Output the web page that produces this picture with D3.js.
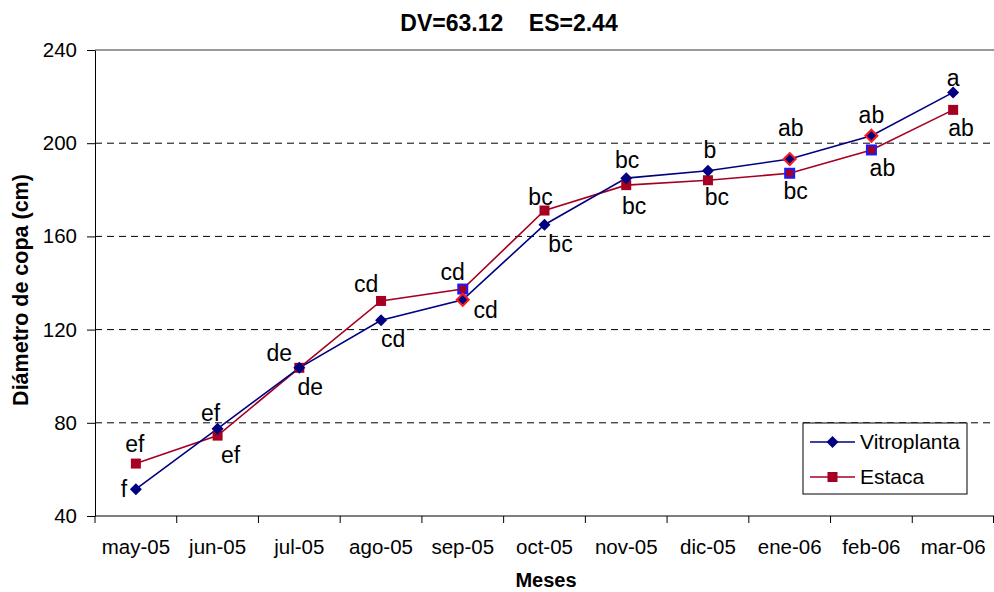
<!DOCTYPE html>
<html>
<head>
<meta charset="utf-8">
<script src="https://cdn.jsdelivr.net/npm/d3@7"></script>
<style>
  html, body { margin: 0; padding: 0; background: #fff; }
  svg { display: block; font-family: Arial, "Liberation Sans", sans-serif; }
</style>
</head>
<body>
<svg id="chart" width="994" height="592"></svg>
<script>
// Monthly crown diameter (cm) for two propagation methods
const months = ["may-05","jun-05","jul-05","ago-05","sep-05","oct-05","nov-05","dic-05","ene-06","feb-06","mar-06"];
const vitroplanta = [51.5, 77.5, 103.6, 124, 132.8, 165, 185, 188.2, 193.2, 203.2, 221.8];
const estaca      = [62.5, 74.5, 103.6, 132.3, 137.4, 171.1, 182, 184.1, 187.1, 197.1, 214.3];
const vitroLetters  = ["f","ef","de","cd","cd","bc","bc","b","ab","ab","a"];
const estacaLetters = ["ef","ef","de","cd","cd","bc","bc","bc","bc","ab","ab"];
const yTicks = [40, 80, 120, 160, 200, 240];

// Label offsets from each point (dx, dy to text centre)
const vitroLabelPos  = [[-12,0],[-7,-16],[-20,-15],[12,19],[23,10],[16,19],[1,-18],[2,-21],[1,-31],[0,-21],[0,-14]];
const estacaLabelPos = [[-1,-20],[13,19],[11,19],[-15,-17],[-10,-17],[-4,-14],[8,21],[9,17],[6,18],[11,18],[8,18]];
// Markers drawn with a contrasting outline (highlighted points)
const vitroHighlight  = [false,false,false,false,true,false,false,false,true,true,false];
const estacaHighlight = [false,false,false,false,true,false,false,false,true,true,false];

const navy = "#000080", crimson = "#A50021";
const svg = d3.select("#chart");
const m = { left: 95, right: 994, top: 50, bottom: 516 };

const x = d3.scaleBand().domain(months).range([m.left, m.right]).padding(0);
const y = d3.scaleLinear().domain([40, 240]).range([m.bottom, m.top]);
const cx = d => x(d) + x.bandwidth() / 2;

// Horizontal gridlines
svg.append("g").selectAll("line")
  .data(yTicks.filter(t => t > 40))
  .join("line")
  .attr("x1", m.left).attr("x2", m.right)
  .attr("y1", d => y(d)).attr("y2", d => y(d))
  .attr("stroke", d => d === 240 ? "#999" : "#000")
  .attr("stroke-width", d => d === 240 ? 2 : 1)
  .attr("stroke-dasharray", d => d === 240 ? null : "7,5");

// Y axis
const yAxis = svg.append("g")
  .attr("transform", `translate(${m.left},0)`)
  .call(d3.axisLeft(y).tickValues(yTicks).tickSize(8).tickSizeOuter(0).tickPadding(10));
yAxis.select(".domain").attr("stroke", "#000");
yAxis.selectAll(".tick line").attr("stroke", "#000");
yAxis.selectAll("text").attr("font-size", 20.5).attr("fill", "#000").attr("font-family", "Arial, 'Liberation Sans', sans-serif");

// X axis: ticks at category boundaries
const xg = svg.append("g").attr("transform", `translate(0,${m.bottom})`);
xg.append("line").attr("x1", m.left).attr("x2", m.right).attr("y1", 0).attr("y2", 0).attr("stroke", "#000");
xg.selectAll("line.tick")
  .data(months.map(d => x(d)).concat([m.right - 0.5]))
  .join("line").attr("class", "tick")
  .attr("x1", d => d).attr("x2", d => d)
  .attr("y1", 0).attr("y2", 7).attr("stroke", "#000");
xg.selectAll("text")
  .data(months)
  .join("text")
  .attr("x", d => cx(d)).attr("y", 38)
  .attr("text-anchor", "middle")
  .attr("font-size", 20.5).attr("fill", "#000")
  .text(d => d);

// Titles
svg.append("text").attr("x", 509).attr("y", 31).attr("text-anchor", "middle")
  .attr("font-size", 23).attr("font-weight", "bold").attr("xml:space", "preserve")
  .text("DV=63.12    ES=2.44");
svg.append("text").attr("x", 546).attr("y", 587).attr("text-anchor", "middle")
  .attr("font-size", 20).attr("font-weight", "bold").text("Meses");
svg.append("text").attr("transform", "translate(28,290) rotate(-90)").attr("text-anchor", "middle")
  .attr("font-size", 21.5).attr("font-weight", "bold").text("Diámetro de copa (cm)");

const line = d3.line().x((d, i) => cx(months[i])).y(d => y(d));

function diamond(g, px, py, r, fill, stroke, sw) {
  g.append("path")
    .attr("d", `M${px},${py - r}L${px + r},${py}L${px},${py + r}L${px - r},${py}Z`)
    .attr("fill", fill).attr("stroke", stroke).attr("stroke-width", sw);
}
function square(g, px, py, s, fill, stroke, sw) {
  g.append("rect").attr("x", px - s).attr("y", py - s).attr("width", 2 * s).attr("height", 2 * s)
    .attr("fill", fill).attr("stroke", stroke).attr("stroke-width", sw);
}

// Series lines
svg.append("path").datum(estaca).attr("d", line).attr("fill", "none").attr("stroke", crimson).attr("stroke-width", 1.6);
svg.append("path").datum(vitroplanta).attr("d", line).attr("fill", "none").attr("stroke", navy).attr("stroke-width", 1.6);

// Markers
const mk = svg.append("g");
estaca.forEach((v, i) => {
  if (estacaHighlight[i]) square(mk, cx(months[i]), y(v), 4.5, crimson, "#1a1aff", 2);
  else square(mk, cx(months[i]), y(v), 5, crimson, "none", 0);
});
vitroplanta.forEach((v, i) => {
  if (vitroHighlight[i]) diamond(mk, cx(months[i]), y(v), 6, navy, "#ff1a1a", 2);
  else diamond(mk, cx(months[i]), y(v), 6, navy, "none", 0);
});

// Letter labels
const lab = svg.append("g").attr("font-size", 23).attr("fill", "#000").attr("text-anchor", "middle");
vitroplanta.forEach((v, i) => {
  lab.append("text").attr("x", cx(months[i]) + vitroLabelPos[i][0]).attr("y", y(v) + vitroLabelPos[i][1])
    .attr("dy", "0.35em").text(vitroLetters[i]);
});
estaca.forEach((v, i) => {
  lab.append("text").attr("x", cx(months[i]) + estacaLabelPos[i][0]).attr("y", y(v) + estacaLabelPos[i][1])
    .attr("dy", "0.35em").text(estacaLetters[i]);
});

// Legend
const lg = svg.append("g").attr("transform", "translate(803,423)");
lg.append("rect").attr("width", 164).attr("height", 71).attr("fill", "#fff").attr("stroke", "#000");
const legendItems = [
  { name: "Vitroplanta", color: navy, shape: "diamond", yy: 19 },
  { name: "Estaca", color: crimson, shape: "square", yy: 54 }
];
legendItems.forEach(it => {
  lg.append("line").attr("x1", 7).attr("x2", 52).attr("y1", it.yy).attr("y2", it.yy).attr("stroke", it.color).attr("stroke-width", 1.6);
  if (it.shape === "diamond") diamond(lg, 29.5, it.yy, 6, it.color, "none", 0);
  else square(lg, 29.5, it.yy, 5, it.color, "none", 0);
  lg.append("text").attr("x", 57).attr("y", it.yy).attr("dy", "0.35em").attr("font-size", 21).text(it.name);
});
</script>
</body>
</html>
